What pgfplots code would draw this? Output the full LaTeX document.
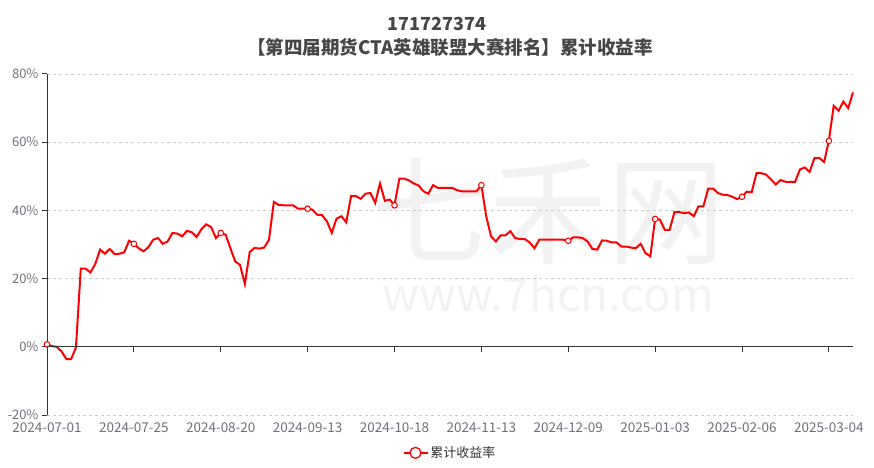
\documentclass[border=0pt]{standalone}
\usepackage{pgfplots}
\pgfplotsset{compat=1.18}
\usepackage{pgfplotstable}
\usepackage{fontspec}
\setmainfont{Noto Sans CJK SC}
\definecolor{axisgray}{HTML}{6E7079}
\definecolor{axisdark}{HTML}{333333}
\definecolor{titlegray}{HTML}{464646}
\definecolor{gridgray}{HTML}{CCCCCC}
\definecolor{linered}{HTML}{FF0000}
\definecolor{wm}{HTML}{F2F2F2}

\pgfplotstableread{
idx val
0 0.7
1 0.2
2 0.0
3 -1.3
4 -3.6
5 -3.6
6 -0.2
7 22.9
8 22.9
9 21.8
10 24.3
11 28.5
12 27.3
13 28.7
14 27.2
15 27.3
16 27.7
17 31.1
18 30.2
19 28.9
20 28.0
21 29.2
22 31.4
23 31.9
24 30.2
25 30.9
26 33.4
27 33.2
28 32.4
29 34.0
30 33.6
31 32.2
32 34.5
33 35.9
34 35.1
35 31.9
36 33.4
37 32.9
38 28.9
39 25.0
40 24.0
41 18.4
42 27.8
43 29.0
44 28.8
45 29.1
46 31.4
47 42.5
48 41.6
49 41.5
50 41.5
51 41.5
52 40.5
53 40.5
54 40.5
55 40.2
56 38.7
57 38.6
58 36.8
59 33.4
60 37.6
61 38.3
62 36.5
63 44.2
64 44.2
65 43.4
66 44.9
67 45.1
68 42.2
69 47.9
70 42.8
71 43.2
72 41.5
73 49.3
74 49.3
75 48.8
76 47.9
77 47.3
78 45.6
79 44.9
80 47.4
81 46.6
82 46.6
83 46.6
84 46.6
85 45.9
86 45.6
87 45.6
88 45.6
89 45.6
90 47.4
91 38.3
92 32.4
93 30.9
94 32.7
95 32.7
96 33.9
97 31.9
98 31.6
99 31.6
100 30.6
101 28.9
102 31.4
103 31.4
104 31.4
105 31.4
106 31.4
107 31.4
108 31.1
109 32.1
110 32.1
111 31.9
112 30.9
113 28.7
114 28.5
115 31.2
116 31.1
117 30.6
118 30.6
119 29.4
120 29.4
121 29.1
122 28.9
123 30.2
124 27.5
125 26.5
126 37.5
127 37.3
128 34.3
129 34.3
130 39.5
131 39.5
132 39.2
133 39.4
134 38.3
135 41.2
136 41.2
137 46.4
138 46.4
139 45.1
140 44.6
141 44.5
142 44.0
143 43.3
144 44.0
145 45.5
146 45.3
147 50.9
148 50.9
149 50.5
150 49.1
151 47.6
152 48.9
153 48.4
154 48.4
155 48.4
156 52.0
157 52.6
158 51.3
159 55.3
160 55.4
161 54.2
162 60.4
163 70.7
164 69.2
165 71.9
166 70.0
167 74.6
}\cumret

\begin{document}
\begin{tikzpicture}[x=1pt,y=1pt]
\useasboundingbox (0,0) rectangle (874,467);
% watermark
\node[text=wm, font=\fontsize{118}{118}\selectfont, inner sep=0pt, anchor=base] at (548,212) {七禾网};
\node[text=wm, font=\fontsize{46}{46}\selectfont, inner sep=0pt, anchor=base] at (548,156) {www.7hcn.com};
% title
\node[text=titlegray, font=\bfseries\fontsize{18}{20}\selectfont, inner sep=0pt] at (437,443) {171727374};
\node[text=titlegray, font=\bfseries\fontsize{18.5}{20}\selectfont, inner sep=0pt] at (450,420) {【第四届期货CTA英雄联盟大赛排名】累计收益率};
\begin{axis}[
  at={(47pt,52pt)}, anchor=south west,
  scale only axis, width=806pt, height=341pt,
  xmin=0, xmax=167, ymin=-20, ymax=80,
  axis lines*=left,
  x axis line style={draw=none},
  y axis line style={draw=axisdark, line width=1pt},
  xtick={0,18,...,162},
  xticklabels={2024-07-01,2024-07-25,2024-08-20,2024-09-13,2024-10-18,2024-11-13,2024-12-09,2025-01-03,2025-02-06,2025-03-04},
  xtick style={draw=none},
  ytick={-20,0,20,40,60,80},
  yticklabel={\pgfmathprintnumber{\tick}\%},
  ytick style={draw=axisdark, line width=1pt},
  tick align=outside, major tick length=5pt,
  /pgf/number format/assume math mode=true,
  ticklabel style={text=axisgray, font=\fontsize{13}{15}\selectfont},
  xticklabel style={yshift=1pt, font=\fontsize{13.5}{15}\selectfont},
  ymajorgrids, grid style={dashed, gridgray, line width=0.8pt},
  legend style={at={(0.5,-0.111)}, anchor=center, draw=none, fill=none,
    font=\fontsize{13}{15}\selectfont, text=axisdark},
  legend image code/.code={
    \draw[linered, line width=1.5pt] (0pt,0pt) -- (24pt,0pt);
    \draw[linered, line width=1.3pt, fill=white] (12pt,0pt) circle (5.5pt);
  },
  clip=false,
]
\addplot[linered, line width=2pt, mark=*, mark repeat=18, mark size=2.8pt,
  mark options={fill=white, draw=linered, line width=1pt}] table[x=idx, y=val] {\cumret};
\addlegendentry{累计收益率}
\end{axis}
\begin{axis}[
  at={(47pt,52pt)}, anchor=south west,
  scale only axis, width=806pt, height=341pt,
  xmin=0, xmax=167, ymin=-20, ymax=80,
  axis x line=middle, axis y line=none,
  axis line style={-, draw=axisdark, line width=1pt},
  xtick={0,18,...,162}, xticklabels={},
  ytick=\empty,
  xtick style={draw=axisdark, line width=1pt},
  tick align=outside, major tick length=5pt,
]
\end{axis}
\end{tikzpicture}
\end{document}
